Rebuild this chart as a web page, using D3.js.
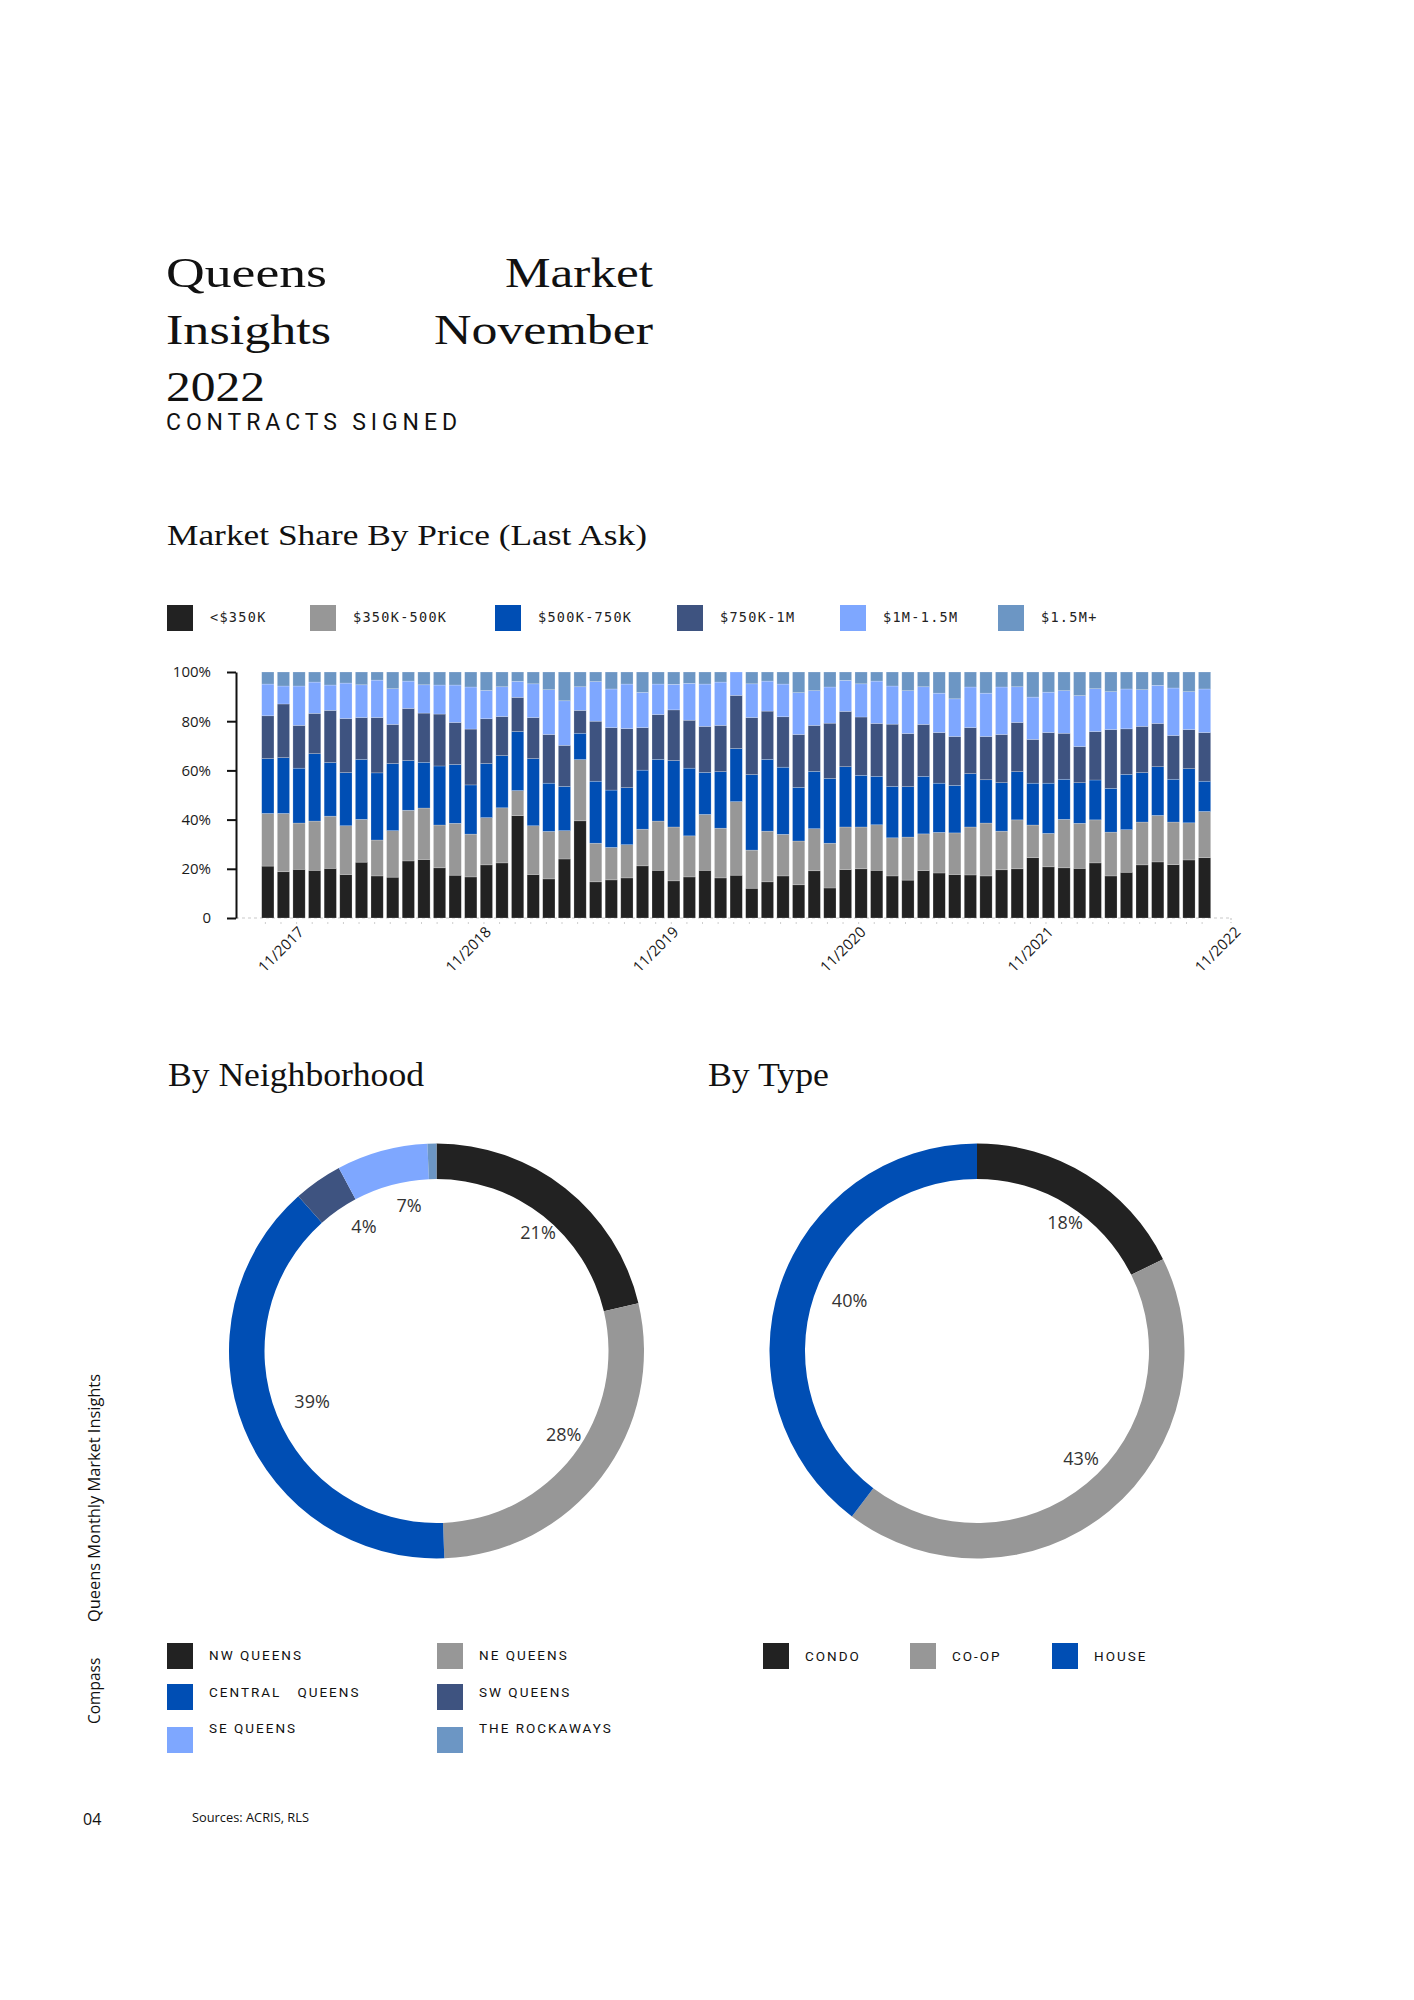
<!DOCTYPE html>
<html><head><meta charset="utf-8">
<script src="https://cdn.jsdelivr.net/npm/d3@7"></script>
<style>body{margin:0;background:#fff} svg{display:block}</style>
</head><body>
<svg id="c" width="1414" height="2000"></svg>
<script>
// ---------- DATA ----------
const months = ["11/2017","12/2017",
 "01/2018","02/2018","03/2018","04/2018","05/2018","06/2018","07/2018","08/2018","09/2018","10/2018","11/2018","12/2018",
 "01/2019","02/2019","03/2019","04/2019","05/2019","06/2019","07/2019","08/2019","09/2019","10/2019","11/2019","12/2019",
 "01/2020","02/2020","03/2020","04/2020","05/2020","06/2020","07/2020","08/2020","09/2020","10/2020","11/2020","12/2020",
 "01/2021","02/2021","03/2021","04/2021","05/2021","06/2021","07/2021","08/2021","09/2021","10/2021","11/2021","12/2021",
 "01/2022","02/2022","03/2022","04/2022","05/2022","06/2022","07/2022","08/2022","09/2022","10/2022","11/2022"];
const xTickLabels = ["11/2017","11/2018","11/2019","11/2020","11/2021","11/2022"];
const yTicks = [0,20,40,60,80,100];
const priceKeys = ["<$350K","$350K-500K","$500K-750K","$750K-1M","$1M-1.5M","$1.5M+"];
const priceColors = ["#222222","#979797","#004EB4","#3E5380","#7EA7FF","#6C96C4"];
const shareUnder350K = [21.1,18.8,19.8,19.4,20.2,17.7,22.7,17.1,16.6,23.2, 23.8,20.4,17.4,16.7,21.6,22.4,41.6,17.7,15.9,24.0, 39.5,14.7,15.5,16.3,21.2,19.4,15.1,16.7,19.4,16.3, 17.4,12.1,14.7,17.1,13.5,19.2,12.2,19.7,20.0,19.4, 17.1,15.4,19.3,18.3,17.7,17.5,17.1,19.6,20.0,24.5, 20.8,20.4,20.2,22.4,17.1,18.6,21.6,22.8,21.7,23.6, 24.5];
const share350to500K = [21.4,23.7,18.8,20.0,21.2,19.8,17.4,14.6,18.9,20.6, 20.9,17.4,21.1,17.4,19.2,22.4,10.2,19.8,19.3,11.5, 24.9,15.7,13.2,13.5,14.9,20.0,21.9,16.7,22.7,20.2, 29.9,15.5,20.6,16.9,17.8,17.1,18.2,17.3,17.0,18.5, 15.5,17.5,14.9,16.5,16.9,19.5,21.5,15.7,19.9,13.3, 13.6,19.7,18.3,17.5,17.8,17.3,17.4,18.9,17.3,15.1, 18.8];
const share500to750K = [22.3,22.7,22.3,27.4,21.8,21.6,24.4,27.3,27.3,20.2, 18.6,24.0,23.9,20.0,22.0,21.2,24.0,27.3,19.6,18.0, 10.7,25.2,23.3,23.2,24.0,25.1,27.0,27.5,17.1,23.0, 21.6,30.7,29.2,27.3,21.8,23.3,26.3,24.5,21.0,19.7, 20.9,20.5,23.4,20.0,19.3,21.7,17.6,19.7,19.6,17.0, 20.4,16.3,16.5,16.2,17.8,22.5,20.1,19.8,17.4,22.0, 12.3];
const share750Kto1M = [17.4,21.8,17.4,16.4,21.2,22.0,17.0,22.5,15.9,21.2, 20.0,21.1,17.1,22.7,18.2,15.9,13.9,16.7,19.8,16.7, 9.3,24.4,25.4,24.0,17.3,18.2,20.6,19.5,18.7,18.8, 21.6,23.2,19.6,20.5,21.5,18.7,22.5,22.5,23.7,21.5, 25.3,21.6,21.1,20.6,19.9,18.7,17.6,19.6,20.0,17.8, 20.6,18.7,14.7,19.7,23.9,18.5,18.8,17.6,17.8,15.9, 19.8];
const share1to1_5M = [12.9,7.3,16.0,12.7,10.3,14.4,13.3,15.2,14.5,11.1, 11.5,11.8,15.2,17.1,11.5,12.1,6.5,13.7,18.2,18.1, 9.6,16.1,15.7,18.1,14.3,12.4,10.4,15.0,17.2,17.6, 9.5,13.7,12.2,13.3,17.0,14.1,14.7,12.6,13.5,17.2, 15.5,17.4,15.3,16.0,15.3,16.5,17.6,19.3,14.5,17.2, 16.4,17.3,20.7,17.4,15.4,16.2,14.9,15.5,19.3,15.4, 17.7];
const share1_5MPlus = [4.9,5.7,5.7,4.1,5.3,4.5,5.2,3.3,6.8,3.7, 5.2,5.3,5.3,6.1,7.5,6.0,3.8,4.8,7.2,11.7, 6.0,3.9,6.9,4.9,8.3,4.9,5.0,4.6,4.9,4.1, 0,4.8,3.7,4.9,8.4,7.6,6.1,3.4,4.8,3.7, 5.7,7.6,6.0,8.6,10.9,6.1,8.6,6.1,6.0,10.2, 8.2,7.6,9.6,6.8,8.0,6.9,7.2,5.4,6.5,8.0, 6.9];

const neighborhoods = ["NW Queens","NE Queens","Central Queens","SW Queens","SE Queens","The Rockaways"];
const neighborhoodShare = [21.3,28.1,39.0,3.8,7.1,0.7];
const neighborhoodColors = ["#222222","#979797","#004EB4","#3E5380","#7EA7FF","#6C96C4"];
const neighborhoodLegend = ["NW QUEENS","NE QUEENS","CENTRAL\u00a0\u00a0\u00a0QUEENS","SW QUEENS","SE QUEENS","THE ROCKAWAYS"];

const types = ["Condo","Co-op","House"];
const typeShare = [17.7,42.6,39.7];
const typeColors = ["#222222","#979797","#004EB4"];
const typeLegend = ["CONDO","CO-OP","HOUSE"];

// ---------- DRAW ----------
const svg = d3.select("#c");
const serif = "'Liberation Serif','Times New Roman',serif";
const sans = "'Open Sans','Noto Sans',sans-serif";

function fitText(g, str, x, y, size, len, anchor, family, adjust){
  const t = g.append("text").attr("x",x).attr("y",y).attr("font-family",family)
    .attr("font-size",size).attr("fill","#111").attr("text-anchor",anchor||"start").text(str);
  if(len){ t.attr("textLength",len).attr("lengthAdjust",adjust||"spacingAndGlyphs"); }
  return t;
}
// Titles
fitText(svg,"Queens",166,287,43,161,"start",serif);
fitText(svg,"Market",653,287,43,148,"end",serif);
fitText(svg,"Insights",166,344,43,165,"start",serif);
fitText(svg,"November",653,344,43,219,"end",serif);
fitText(svg,"2022",166,401,43,99,"start",serif);
fitText(svg,"CONTRACTS SIGNED",166,430,23,291,"start","Roboto,sans-serif","spacing");
fitText(svg,"Market Share By Price (Last Ask)",167,545,29,480,"start",serif);
fitText(svg,"By Neighborhood",168,1086,33,256,"start",serif);
fitText(svg,"By Type",708,1086,33,121,"start",serif);

// Price legend
const legX = [167,310,495,677,840,998];
priceKeys.forEach((k,i)=>{
  svg.append("rect").attr("x",legX[i]).attr("y",605).attr("width",26).attr("height",26).attr("fill",priceColors[i]);
  svg.append("text").attr("x",legX[i]+43).attr("y",622).attr("font-family","'DejaVu Sans Mono',monospace")
    .attr("font-size",13.5).attr("letter-spacing",1.3).attr("fill","#222").text(k);
});

// Bar chart
const rows = months.map((m,i)=>({month:m,
  [priceKeys[0]]:shareUnder350K[i],[priceKeys[1]]:share350to500K[i],[priceKeys[2]]:share500to750K[i],
  [priceKeys[3]]:share750Kto1M[i],[priceKeys[4]]:share1to1_5M[i],[priceKeys[5]]:share1_5MPlus[i]}));
const stack = d3.stack().keys(priceKeys)(rows);
const x = d3.scaleBand().domain(months).range([261.7,1210.7]).paddingInner(0.215).paddingOuter(0);
const y = d3.scaleLinear().domain([0,100]).range([918,672]);
const color = d3.scaleOrdinal().domain(priceKeys).range(priceColors);

const chart = svg.append("g");
chart.append("line").attr("x1",236).attr("x2",1231).attr("y1",y(0)).attr("y2",y(0))
  .attr("stroke","#c9c9c9").attr("stroke-width",1.2).attr("stroke-dasharray","3,3");
chart.append("line").attr("x1",1231).attr("x2",1231).attr("y1",y(0)).attr("y2",y(0)+5)
  .attr("stroke","#c9c9c9").attr("stroke-width",1.2).attr("stroke-dasharray","2,2");
chart.selectAll("line.tk").data(months).join("line").attr("class","tk")
  .attr("x1",d=>x(d)+x.bandwidth()*0.3).attr("x2",d=>x(d)+x.bandwidth()*0.3)
  .attr("y1",y(0)+4).attr("y2",y(0)+8).attr("stroke","#cfcfcf").attr("stroke-width",1).attr("stroke-dasharray","2,2");

chart.selectAll("g.s").data(stack).join("g").attr("class","s").attr("fill",d=>color(d.key))
  .selectAll("rect").data(d=>d).join("rect")
  .attr("x",d=>x(d.data.month)).attr("width",x.bandwidth())
  .attr("y",d=>y(d[1])).attr("height",d=>Math.max(0,y(d[0])-y(d[1])))
  .attr("stroke","#ffffff").attr("stroke-opacity",0.35).attr("stroke-width",0.6);

const yAxis = chart.append("g").attr("transform","translate(236,0)")
  .call(d3.axisLeft(y).tickValues(yTicks).tickFormat(d=>d===0?"0":d+"%").tickSize(9).tickSizeOuter(0).tickPadding(16));
yAxis.select(".domain").attr("stroke","#111").attr("stroke-width",2);
yAxis.selectAll(".tick line").attr("stroke","#111").attr("stroke-width",2);
yAxis.selectAll(".tick text").attr("font-family",sans).attr("font-size",15).attr("fill","#1a1a1a");

chart.selectAll("text.xl").data(xTickLabels).join("text").attr("class","xl")
  .attr("transform",d=>`translate(${x(d)+x.bandwidth()/2+37},933) rotate(-45)`)
  .attr("text-anchor","end").attr("font-family",sans).attr("font-size",15).attr("fill","#1a1a1a").text(d=>d);

// Donuts
function donut(cx,cy,values,colors){
  const pie = d3.pie().sort(null).value(d=>d)(values);
  const arc = d3.arc().innerRadius(172).outerRadius(207.5);
  const lab = d3.arc().innerRadius(146).outerRadius(146);
  const g = svg.append("g").attr("transform",`translate(${cx},${cy})`);
  g.selectAll("path").data(pie).join("path").attr("d",arc).attr("fill",(d,i)=>colors[i]);
  g.selectAll("text").data(pie.filter(d=>d.data>=2)).join("text")
    .attr("x",d=>lab.centroid(d)[0]+11).attr("y",d=>lab.centroid(d)[1]-5)
    .attr("text-anchor","middle").attr("dominant-baseline","central")
    .attr("font-family",sans).attr("font-size",18).attr("fill","#333")
    .text(d=>Math.round(d.data)+"%");
}
donut(436.5,1351,neighborhoodShare,neighborhoodColors);
donut(977,1351,typeShare,typeColors);

// Neighborhood legend
const nbX = [167,437], nbSqY=[1643,1684,1727], nbTxY=[1660,1697,1733];
neighborhoodLegend.forEach((t,i)=>{
  const c=i%2, r=Math.floor(i/2);
  svg.append("rect").attr("x",nbX[c]).attr("y",nbSqY[r]).attr("width",26).attr("height",26).attr("fill",neighborhoodColors[i]);
  svg.append("text").attr("x",nbX[c]+42).attr("y",nbTxY[r]).attr("font-family","Roboto,sans-serif")
    .attr("font-size",13.5).attr("letter-spacing",2).attr("fill","#111").text(t);
});
// Type legend
const tyX=[763,910,1052];
typeLegend.forEach((t,i)=>{
  svg.append("rect").attr("x",tyX[i]).attr("y",1643).attr("width",26).attr("height",26).attr("fill",typeColors[i]);
  svg.append("text").attr("x",tyX[i]+42).attr("y",1661).attr("font-family","Roboto,sans-serif")
    .attr("font-size",13.5).attr("letter-spacing",2).attr("fill","#111").text(t);
});

// Side texts & footer
svg.append("text").attr("transform","translate(100,1622) rotate(-90)").attr("font-family",sans)
  .attr("font-size",16).attr("fill","#111").attr("textLength",248).attr("lengthAdjust","spacingAndGlyphs").text("Queens Monthly Market Insights");
svg.append("text").attr("transform","translate(100,1724) rotate(-90)").attr("font-family",sans)
  .attr("font-size",15.5).attr("fill","#111").text("Compass");
svg.append("text").attr("x",83).attr("y",1825).attr("font-family",sans).attr("font-size",16).attr("fill","#111").text("04");
svg.append("text").attr("x",192).attr("y",1822).attr("font-family",sans).attr("font-size",12.5).attr("fill","#111")
  .attr("textLength",117).attr("lengthAdjust","spacingAndGlyphs").text("Sources: ACRIS, RLS");
</script>
</body></html>
